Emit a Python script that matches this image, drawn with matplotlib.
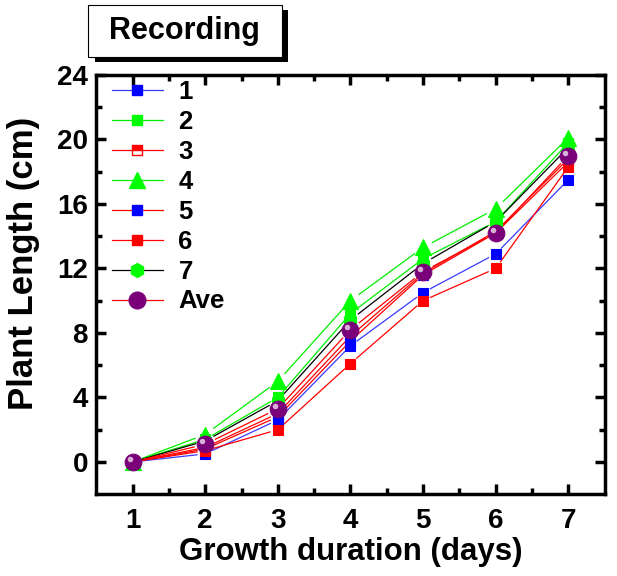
import numpy as np
import matplotlib
matplotlib.use('Agg')
import matplotlib.pyplot as plt
from matplotlib.lines import Line2D
from matplotlib.patches import Rectangle
from matplotlib.transforms import ScaledTranslation

plt.rcParams['font.family'] = ['Liberation Sans', 'DejaVu Sans']
plt.rcParams['font.weight'] = 'bold'

days = [1, 2, 3, 4, 5, 6, 7]
s1 = [0, 0.5, 2.6, 7.2, 10.5, 12.9, 17.5]
s2 = [0, 1.4, 4.0, 9.2, 12.6, 14.9, 19.8]
s3 = [0, 0.9, 3.0, 7.8, 11.7, 14.3, 18.8]
s4 = [0, 1.7, 5.0, 10.0, 13.3, 15.7, 20.1]
s5 = [0, 0.8, 2.8, 7.5, 11.6, 14.2, 18.6]
s6 = [0, 0.7, 2.0, 6.1, 10.0, 12.0, 18.3]
s7 = [0, 1.3, 3.8, 8.8, 12.3, 14.9, 19.5]
ave = [0, 1.1, 3.3, 8.2, 11.8, 14.2, 19.0]
labels = ['1', '2', '3', '4', '5', '6', '7', 'Ave']

# (values, line colour, marker, marker face, marker size, fillstyle)
styles = [
    (s1, '#3a3aff', 's', '#0000ff', 7.5, 'full'),
    (s2, '#00ee00', 's', '#00ff00', 7.5, 'full'),
    (s3, '#ff0000', 's', '#ff0000', 7.5, 'top'),
    (s4, '#00ee00', '^', '#00ff00', 11, 'full'),
    (s5, '#ff0000', 's', '#0000ff', 7.5, 'full'),
    (s6, '#ff0000', 's', '#ff0000', 7.5, 'full'),
    (s7, '#000000', 'h', '#00ff00', 10, 'full'),
    (ave, '#ff0000', 'o', '#7a007a', 12, 'full'),
]

fig = plt.figure(figsize=(6.17, 5.76), dpi=100)
ax = fig.add_axes([0.156, 0.142, 0.824, 0.728])
ax.set_xlim(0.5, 7.5)
ax.set_ylim(-2, 24)

x = np.array(days, dtype=float)
for vals, lc, mk, mf, ms, fs in styles:
    y = np.array(vals, dtype=float)
    pts = ax.transData.transform(np.column_stack([x, y]))
    gap = ms * 100 / 72 / 2 + 3
    for i in range(len(pts) - 1):
        p0, p1 = pts[i], pts[i + 1]
        d = p1 - p0
        L = np.hypot(*d)
        if L <= 2 * gap:
            continue
        u = d / L
        seg = ax.transData.inverted().transform(np.array([p0 + u * gap, p1 - u * gap]))
        ax.plot(seg[:, 0], seg[:, 1], color=lc, lw=0.9, zorder=2)

for vals, lc, mk, mf, ms, fs in styles:
    ax.plot(days, vals, linestyle='none', marker=mk, markersize=ms, color=mf,
            markerfacecolor=mf, markeredgecolor=mf, markeredgewidth=0.8,
            fillstyle=fs, markerfacecoloralt='white', zorder=3)

# highlight on the average spheres
hl = ax.transData + ScaledTranslation(-3 / 100, 3 / 100, fig.dpi_scale_trans)
ax.plot(days, ave, linestyle='none', marker='o', markersize=4, color='#d6b0d6',
        markeredgewidth=0, transform=hl, zorder=4)

handles = []
for vals, lc, mk, mf, ms, fs in styles:
    handles.append(Line2D([], [], color=lc, lw=0.9, marker=mk, markersize=ms,
                          markerfacecolor=mf, markeredgecolor=mf, fillstyle=fs,
                          markerfacecoloralt='white'))
ax.legend(handles, labels, loc='upper left', frameon=False, fontsize=18.5,
          handlelength=2.0, labelspacing=0.23, borderaxespad=0.0,
          handletextpad=0.6, bbox_to_anchor=(0.01, 1.012))

ax.set_xticks(days)
ax.set_xticks(np.arange(1.5, 7.5, 1), minor=True)
ax.set_yticks(np.arange(0, 25, 4))
ax.set_yticks(np.arange(2, 24, 4), minor=True)
ax.tick_params(which='both', direction='in', top=True, right=True, width=2.5,
               labelsize=20)
ax.tick_params(which='major', length=7)
ax.tick_params(which='minor', length=4)
ax.tick_params(axis='x', which='major', pad=10)
ax.tick_params(axis='y', which='major', pad=6)
for lab in ax.get_xticklabels() + ax.get_yticklabels():
    lab.set_fontweight('bold')
for sp in ax.spines.values():
    sp.set_linewidth(2.5)

ax.set_xlabel('Growth duration (days)', fontsize=22.5, fontweight='bold', labelpad=2)
ax.set_ylabel('Plant Length (cm)', fontsize=25, fontweight='bold')
ax.yaxis.set_label_coords(-0.11, 0.55)

# title box with shadow
fig.patches.append(Rectangle((95 / 617, 1 - 62 / 576), 193 / 617, 52 / 576,
                             transform=fig.transFigure, facecolor='black',
                             edgecolor='none', zorder=1))
fig.patches.append(Rectangle((88 / 617, 1 - 57 / 576), 194 / 617, 52 / 576,
                             transform=fig.transFigure, facecolor='white',
                             edgecolor='black', lw=0.8, zorder=2))
fig.text(184 / 617, 1 - 31 / 576, 'Recording', ha='center', va='center',
         fontsize=22, fontweight='bold', zorder=3)

fig.savefig('out.png', dpi=100)
